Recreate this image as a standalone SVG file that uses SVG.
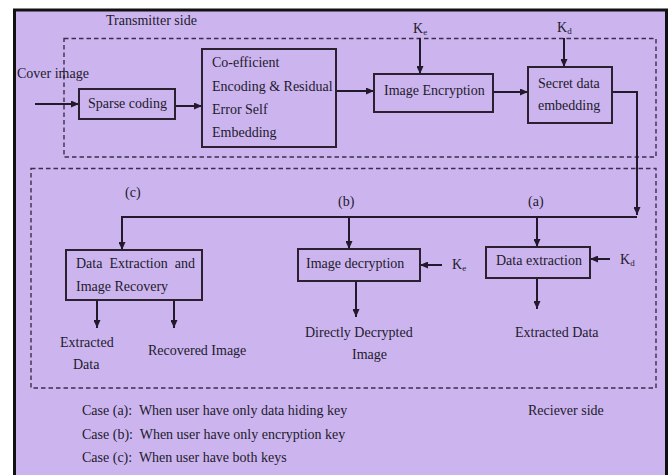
<svg xmlns="http://www.w3.org/2000/svg" width="670" height="475" viewBox="0 0 670 475">
<style>
text{font-family:"Liberation Serif","Times New Roman",serif;font-size:14px;fill:#221a2c}
.box{fill:#ccb5ef;stroke:#2a2030;stroke-width:2}
.dash{fill:none;stroke:#3a2f48;stroke-width:1.4;stroke-dasharray:4.5,3}
.ln{fill:none;stroke:#221a2c;stroke-width:2}
.sub{font-size:9px}
</style>
<defs>
<marker id="ah" markerUnits="userSpaceOnUse" markerWidth="8" markerHeight="7" refX="8" refY="3.5" orient="auto">
<path d="M0,0 L8,3.5 L0,7 z" fill="#221a2c"/>
</marker>
</defs>
<rect x="0" y="0" width="670" height="475" fill="#ffffff"/>
<rect x="14.5" y="10" width="652" height="480" fill="#ccb5ef" stroke="#111" stroke-width="3"/>
<rect class="dash" x="64" y="38.5" width="592" height="118.5"/>
<rect class="dash" x="31" y="168.5" width="625" height="219.5"/>
<text x="106" y="25">Transmitter side</text>
<text x="528" y="415">Reciever side</text>
<g id="legend">
<text x="82" y="415" xml:space="preserve">Case (a):  When user have only data hiding key</text>
<text x="82" y="439" xml:space="preserve">Case (b):  When user have only encryption key</text>
<text x="82" y="462" xml:space="preserve">Case (c):  When user have both keys</text>
</g>
<g id="connectors">
<line class="ln" x1="35" y1="104" x2="79" y2="104" marker-end="url(#ah)"/>
<line class="ln" x1="175" y1="106" x2="202" y2="106" marker-end="url(#ah)"/>
<line class="ln" x1="336" y1="91" x2="374" y2="91" marker-end="url(#ah)"/>
<line class="ln" x1="420" y1="38" x2="420" y2="74" marker-end="url(#ah)"/>
<line class="ln" x1="493" y1="92" x2="528" y2="92" marker-end="url(#ah)"/>
<line class="ln" x1="564" y1="38" x2="564" y2="67" marker-end="url(#ah)"/>
<polyline class="ln" points="612,92 637,92 637,215" marker-end="url(#ah)"/>
<polyline class="ln" points="637,217 122,217 122,250" marker-end="url(#ah)"/>
<line class="ln" x1="349" y1="217" x2="349" y2="249" marker-end="url(#ah)"/>
<line class="ln" x1="537" y1="217" x2="537" y2="247" marker-end="url(#ah)"/>
<line class="ln" x1="442" y1="265" x2="420" y2="265" marker-end="url(#ah)"/>
<line class="ln" x1="610" y1="259" x2="590" y2="259" marker-end="url(#ah)"/>
<line class="ln" x1="97" y1="300" x2="97" y2="328" marker-end="url(#ah)"/>
<line class="ln" x1="174" y1="300" x2="174" y2="328" marker-end="url(#ah)"/>
<line class="ln" x1="356" y1="281" x2="356" y2="317" marker-end="url(#ah)"/>
<line class="ln" x1="537" y1="278" x2="537" y2="309" marker-end="url(#ah)"/>
</g>
<g id="cover">
<text x="17" y="78">Cover image</text>
</g>
<g id="sparse">
<rect class="box" x="79" y="89" width="96" height="30"/>
<text x="88" y="108">Sparse coding</text>
</g>
<g id="coeff">
<rect class="box" x="202" y="49" width="134" height="98"/>
<text x="212" y="67">Co-efficient</text>
<text x="212" y="91">Encoding &amp; Residual</text>
<text x="212" y="114">Error Self</text>
<text x="212" y="137">Embedding</text>
</g>
<g id="encrypt">
<rect class="box" x="374" y="74" width="119" height="38"/>
<text x="384" y="95">Image Encryption</text>
</g>
<g id="ke1">
<text x="413" y="33">K<tspan class="sub" dy="2">e</tspan></text>
</g>
<g id="embed">
<rect class="box" x="528" y="67" width="84" height="56"/>
<text x="538" y="88">Secret data</text>
<text x="538" y="110">embedding</text>
</g>
<g id="kd1">
<text x="557" y="32">K<tspan class="sub" dy="2">d</tspan></text>
</g>
<g id="labels">
<text x="125" y="197">(c)</text>
<text x="338" y="206">(b)</text>
<text x="528" y="206">(a)</text>
</g>
<g id="recovery">
<rect class="box" x="66" y="250" width="136" height="50"/>
<text x="76" y="268" xml:space="preserve">Data  Extraction  and</text>
<text x="76" y="291">Image Recovery</text>
</g>
<g id="out-c">
<text x="60" y="347">Extracted</text>
<text x="73" y="369">Data</text>
<text x="148" y="355">Recovered Image</text>
</g>
<g id="decrypt">
<rect class="box" x="298" y="249" width="122" height="32"/>
<text x="306" y="268">Image decryption</text>
</g>
<g id="ke2">
<text x="452" y="269">K<tspan class="sub" dy="2">e</tspan></text>
</g>
<g id="out-b">
<text x="305" y="337">Directly Decrypted</text>
<text x="352" y="359">Image</text>
</g>
<g id="extract">
<rect class="box" x="486" y="247" width="104" height="31"/>
<text x="496" y="265">Data extraction</text>
</g>
<g id="kd2">
<text x="620" y="264">K<tspan class="sub" dy="2">d</tspan></text>
</g>
<g id="out-a">
<text x="515" y="337">Extracted Data</text>
</g>
</svg>
